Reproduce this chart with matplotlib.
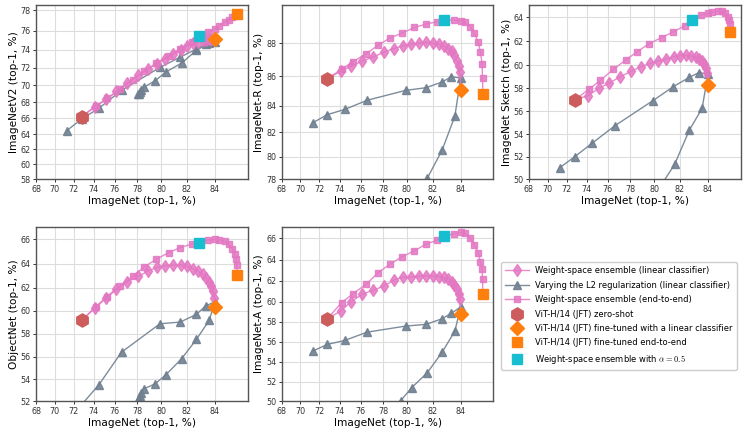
import numpy as np
import matplotlib
matplotlib.use("Agg")
import matplotlib.pyplot as plt
from matplotlib.ticker import FixedLocator, FixedFormatter

plt.rcParams['font.family'] = ['DejaVu Sans']
plt.rcParams['mathtext.fontset'] = 'cm'

# ImageNet accuracy (x) of each series, shared by every panel
wse_lc_x = [72.8, 74.1, 75.14, 76.14, 77.12, 78.1, 78.93, 79.66, 80.3, 80.93, 81.52,
            82.04, 82.46, 82.82, 83.15, 83.39, 83.57, 83.74, 83.86, 83.95, 84.0]
wse_e2e_x = [72.8, 74.2, 75.3, 76.5, 77.6, 78.6, 79.6, 80.6, 81.5, 82.35, 82.85,
             83.55, 84.0, 84.3, 84.65, 84.9, 85.15, 85.3, 85.4, 85.43, 85.45]
l2_x = [71.3, 72.8, 74.5, 76.6, 79.9, 81.5, 82.7, 83.35, 84.0,
        83.6, 82.7, 81.6, 80.4, 79.5, 78.6, 78.3, 78.2, 78.15, 78.1]
zs_x = 72.8
ft_lc_x = 84.0
ft_e2e_x = 85.45
half_x = 82.85

names = ["ImageNetV2", "ImageNet-R", "ImageNet Sketch", "ObjectNet", "ImageNet-A"]

wse_lc_y = {
    "ImageNetV2": [66.2, 67.42, 68.31, 69.27, 70.3, 71.14, 71.9, 72.46, 73.0, 73.49, 74.0,
                   74.39, 74.67, 74.84, 74.98, 75.05, 75.12, 75.14, 75.14, 75.12, 75.1],
    "ImageNet-R": [85.85, 86.33, 86.65, 86.97, 87.2, 87.5, 87.7, 87.85, 87.95, 88.0, 88.06,
                   88.0, 87.94, 87.84, 87.7, 87.56, 87.3, 86.99, 86.65, 86.29, 85.08],
    "ImageNet Sketch": [57.0, 57.37, 58.0, 58.48, 59.0, 59.49, 59.87, 60.15, 60.35, 60.52, 60.72,
                        60.8, 60.86, 60.8, 60.72, 60.55, 60.35, 60.1, 59.79, 59.35, 58.3],
    "ObjectNet": [59.18, 60.29, 61.15, 61.92, 62.5, 62.96, 63.41, 63.7, 63.83, 63.89, 63.92,
                  63.8, 63.6, 63.41, 63.13, 62.85, 62.51, 62.15, 61.72, 61.15, 60.34],
    "ImageNet-A": [58.31, 59.06, 60.0, 60.7, 61.1, 61.5, 62.07, 62.32, 62.38, 62.44, 62.47,
                   62.47, 62.41, 62.32, 62.16, 61.9, 61.58, 61.19, 60.77, 60.28, 58.74],
}
wse_e2e_y = {
    "ImageNetV2": [66.2, 67.5, 68.43, 69.55, 70.64, 71.64, 72.5, 73.34, 74.07, 74.8, 75.47,
                   75.85, 76.16, 76.5, 76.82, 77.08, 77.3, 77.47, 77.53, 77.56, 77.6],
    "ImageNet-R": [85.85, 86.45, 86.93, 87.4, 87.9, 88.3, 88.56, 88.87, 89.04, 89.17, 89.25,
                   89.25, 89.22, 89.13, 88.9, 88.56, 88.09, 87.5, 86.8, 85.88, 84.85],
    "ImageNet Sketch": [57.0, 57.92, 58.7, 59.64, 60.44, 61.14, 61.82, 62.33, 62.8, 63.3, 63.8,
                        64.2, 64.33, 64.44, 64.5, 64.5, 64.33, 64.05, 63.77, 63.45, 62.79],
    "ObjectNet": [59.18, 60.34, 61.2, 62.12, 62.96, 63.75, 64.38, 64.93, 65.34, 65.62, 65.75,
                  65.95, 66.03, 65.97, 65.84, 65.62, 65.26, 64.85, 64.38, 63.92, 63.07],
    "ImageNet-A": [58.31, 59.89, 60.77, 61.67, 62.79, 63.58, 64.27, 64.83, 65.44, 65.81, 66.2,
                   66.36, 66.51, 66.42, 66.0, 65.38, 64.67, 63.74, 63.17, 62.16, 60.77],
}
l2_y = {
    "ImageNetV2": [64.45, 65.9, 67.25, 69.39, 72.05, 73.19, 74.07, 74.6, 74.85,
                   74.7, 73.93, 72.53, 71.55, 70.52, 69.8, 69.4, 69.15, 69.0, 68.95],
    "ImageNet-R": [82.74, 83.36, 83.74, 84.4, 85.08, 85.26, 85.64, 85.98, 85.9,
                   83.24, 80.56, 78.1, 75.8, 74.0, 72.5, 72.0, 71.8, 71.6, 71.5],
    "ImageNet Sketch": [51.04, 52.0, 53.19, 54.72, 56.94, 58.15, 58.96, 59.35, 59.25,
                        56.27, 54.37, 51.32, 49.2, 48.3, 47.4, 47.0, 46.8, 46.7, 46.6],
    "ObjectNet": [50.6, 51.7, 53.5, 56.39, 58.89, 59.04, 59.71, 60.43, 60.8,
                  59.18, 57.52, 55.81, 54.4, 53.56, 53.14, 52.75, 52.5, 52.3, 52.15],
    "ImageNet-A": [55.08, 55.75, 56.15, 56.98, 57.58, 57.75, 58.31, 58.84, 59.46,
                   57.08, 54.97, 52.9, 51.4, 50.07, 49.0, 48.6, 48.4, 48.3, 48.2],
}
zs_y = {"ImageNetV2": 66.2, "ImageNet-R": 85.85, "ImageNet Sketch": 57.0,
        "ObjectNet": 59.18, "ImageNet-A": 58.31}
ft_lc_y = {"ImageNetV2": 75.1, "ImageNet-R": 85.08, "ImageNet Sketch": 58.3,
           "ObjectNet": 60.34, "ImageNet-A": 58.74}
ft_e2e_y = {"ImageNetV2": 77.6, "ImageNet-R": 84.85, "ImageNet Sketch": 62.79,
            "ObjectNet": 63.07, "ImageNet-A": 60.77}
half_y = {"ImageNetV2": 75.47, "ImageNet-R": 89.25, "ImageNet Sketch": 63.8,
          "ObjectNet": 65.75, "ImageNet-A": 66.2}

ylims = {"ImageNetV2": (58, 78.5), "ImageNet-R": (78, 90), "ImageNet Sketch": (50, 65),
         "ObjectNet": (52, 67), "ImageNet-A": (50, 67)}
yticks = {"ImageNetV2": list(range(58, 79, 2)), "ImageNet-R": list(range(78, 89, 2)),
          "ImageNet Sketch": list(range(50, 65, 2)), "ObjectNet": list(range(52, 67, 2)),
          "ImageNet-A": list(range(50, 67, 2))}
xticks = list(range(68, 85, 2))


def fwd(v):
    v = np.clip(np.asarray(v, dtype=float), 0.01, 99.99)
    return np.log(v / (100 - v))


def inv(u):
    return 100 / (1 + np.exp(-np.asarray(u, dtype=float)))


fig = plt.figure(figsize=(7.48, 4.37), dpi=100)
w, h = 211.7 / 748, 174.3 / 437
boxes = [(36 / 748, 0.5897), (281.7 / 748, 0.5897), (529 / 748, 0.5897),
         (36 / 748, 0.0817), (281.7 / 748, 0.0817)]

pink = '#e377c2'
slate = '#708090'

for name, (l, b) in zip(names, boxes):
    ax = fig.add_axes([l, b, w, h])
    ax.set_xscale('function', functions=(fwd, inv))
    ax.set_yscale('function', functions=(fwd, inv))

    ax.plot(wse_lc_x, wse_lc_y[name], color=pink, marker='d', ms=6.5, lw=1, alpha=0.85,
            label='Weight-space ensemble (linear classifier)', zorder=3)
    ax.plot(l2_x, l2_y[name], color=slate, marker='^', ms=6, lw=1, alpha=0.9,
            label='Varying the L2 regularization (linear classifier)', zorder=2)
    ax.plot(wse_e2e_x, wse_e2e_y[name], color=pink, marker='s', ms=4.8, lw=1, alpha=0.85,
            label='Weight-space ensemble (end-to-end)', zorder=3)
    ax.plot([zs_x], [zs_y[name]], ls='none', marker='h', ms=9.5, color='#cd5c5c',
            label='ViT-H/14 (JFT) zero-shot', zorder=5)
    ax.plot([ft_lc_x], [ft_lc_y[name]], ls='none', marker='D', ms=7.5, color='#ff7f0e',
            label='ViT-H/14 (JFT) fine-tuned with a linear classifier', zorder=5)
    ax.plot([ft_e2e_x], [ft_e2e_y[name]], ls='none', marker='s', ms=7.5, color='#ff7f0e',
            label='ViT-H/14 (JFT) fine-tuned end-to-end', zorder=5)
    ax.plot([half_x], [half_y[name]], ls='none', marker='s', ms=7, color='#17becf',
            label=r'Weight-space ensemble with $\alpha=0.5$', zorder=5)

    ax.set_xlim(68, 86.1)
    ax.set_ylim(*ylims[name])
    ax.xaxis.set_major_locator(FixedLocator(xticks))
    ax.xaxis.set_major_formatter(FixedFormatter([str(t) for t in xticks]))
    ax.yaxis.set_major_locator(FixedLocator(yticks[name]))
    ax.yaxis.set_major_formatter(FixedFormatter([str(t) for t in yticks[name]]))
    ax.xaxis.set_minor_locator(FixedLocator([]))
    ax.yaxis.set_minor_locator(FixedLocator([]))
    ax.tick_params(labelsize=5.8, length=2.5, width=0.7, pad=1.5, colors='#333333')
    ax.grid(True, color='#dddddd', lw=0.8, zorder=0)
    ax.set_axisbelow(True)
    for s in ax.spines.values():
        s.set_color('#555555')
        s.set_linewidth(1.0)
    ax.set_xlabel('ImageNet (top-1, %)', fontsize=7.6, labelpad=1.2)
    ax.set_ylabel(name + ' (top-1, %)', fontsize=7.6, labelpad=1.2)
    if name == "ImageNetV2":
        handles, labels = ax.get_legend_handles_labels()

fig.legend(handles, labels, loc='upper left', bbox_to_anchor=(497 / 748, 1 - 258 / 437),
           fontsize=6.0, handlelength=2.8, labelspacing=0.65, borderpad=0.5,
           handletextpad=0.8, framealpha=1, edgecolor='#cccccc', fancybox=True)

fig.savefig('out.png', dpi=100)
